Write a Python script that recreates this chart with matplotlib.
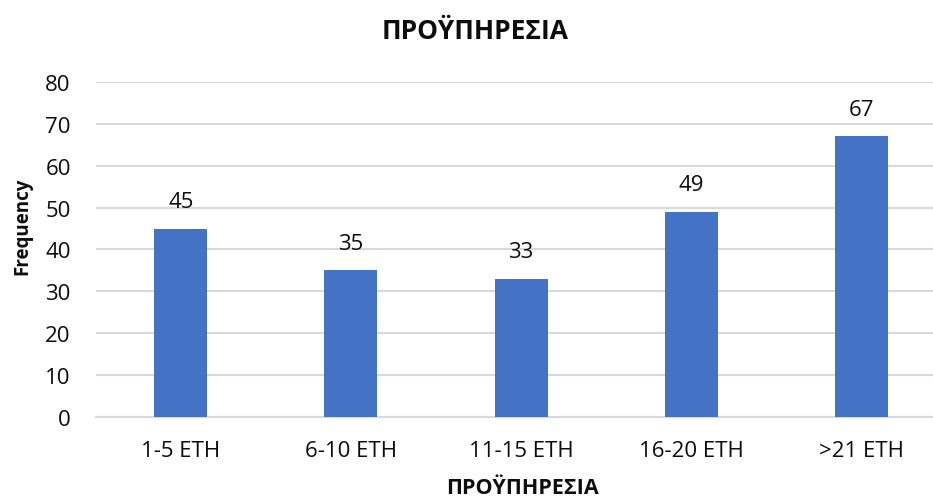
import matplotlib.pyplot as plt

# ΠΡΟΫΠΗΡΕΣΙΑ - συχνότητες ανά κατηγορία ετών
kategories = ["1-5 ETH", "6-10 ETH", "11-15 ETH", "16-20 ETH", ">21 ETH"]
syxnotites = [45, 35, 33, 49, 67]
y_ticks = [0, 10, 20, 30, 40, 50, 60, 70, 80]

plt.rcParams['font.family'] = ['Open Sans', 'DejaVu Sans']
keimeno = '#0d0d0d'

fig = plt.figure(figsize=(9.33, 5.02), dpi=100)
ax = fig.add_axes([0.1027, 0.1667, 0.9115, 0.6686])

x = range(len(kategories))
bars = ax.bar(x, syxnotites, width=0.312, color='#4472C4', zorder=3)

# ετικέτες τιμών πάνω από κάθε μπάρα
for b, v in zip(bars, syxnotites):
    ax.annotate(str(v), (b.get_x() + b.get_width() / 2, v),
                xytext=(0, 19.5), textcoords='offset points',
                ha='center', va='center', fontsize=16, color=keimeno)

ax.set_xlim(-0.5, len(kategories) - 0.5)
ax.set_ylim(0, 80)
ax.set_yticks(y_ticks)
ax.set_xticks(list(x))
ax.set_xticklabels(kategories)
ax.tick_params(axis='both', length=0, labelsize=16, colors=keimeno)
ax.tick_params(axis='y', pad=18)
ax.tick_params(axis='x', pad=16)

ax.grid(axis='y', color='#d9d9d9', linewidth=1.5, zorder=0)
for s in ['top', 'right', 'left']:
    ax.spines[s].set_visible(False)
ax.spines['bottom'].set_color('#d9d9d9')
ax.spines['bottom'].set_linewidth(1.5)

fig.text(475 / 933, 1 - 32 / 502, "ΠΡΟΫΠΗΡΕΣΙΑ", ha='center', va='center',
         fontsize=19, fontweight='bold', color=keimeno)
fig.text(523 / 933, 1 - 489 / 502, "ΠΡΟΫΠΗΡΕΣΙΑ", ha='center', va='center',
         fontsize=15.5, fontweight='bold', color=keimeno)
fig.text(22.5 / 933, 1 - 226.5 / 502, "Frequency", ha='center', va='center',
         rotation=90, fontsize=13.5, fontweight='bold', color=keimeno)

fig.savefig('out.png', dpi=100)
